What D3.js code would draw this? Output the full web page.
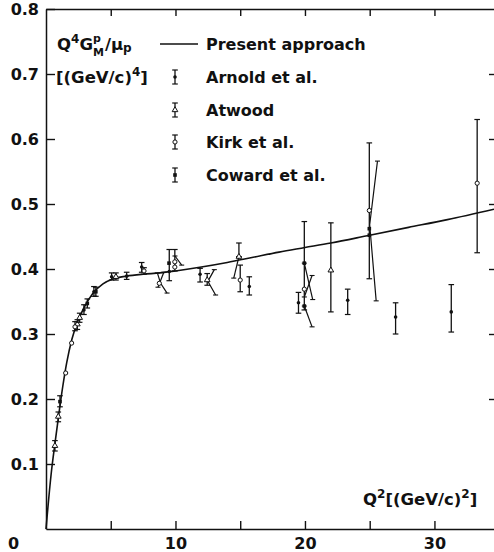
<!DOCTYPE html>
<html><head><meta charset="utf-8">
<script src="https://cdn.jsdelivr.net/npm/d3@7/dist/d3.min.js"></script>
<style>
body{margin:0;background:#fff}
svg{display:block}
text{font-family:"DejaVu Sans",sans-serif;font-weight:bold;fill:#111}
</style>
</head><body>
<svg id="c" width="494" height="552"></svg>
<script>
// ---------- data ----------
const xTicks = [5, 10, 15, 20, 25, 30];
const xLabels = [0, 10, 20, 30];
const yTicks = [0.1, 0.2, 0.3, 0.4, 0.5, 0.6, 0.7, 0.8];
const yRightTicks = [0.2, 0.3, 0.4, 0.5, 0.6, 0.7];

// "Present approach" curve
const curveQ2  = [0, 0.4, 0.7, 1.0, 1.3, 1.6, 2.0, 2.5, 3.0, 3.6, 4.4, 5.2, 6.2, 7.5, 8.8, 10, 12, 14, 16, 18, 20, 22, 25, 28, 31, 34.6];
const curveVal = [0, 0.085, 0.133, 0.178, 0.22, 0.256, 0.292, 0.322, 0.343, 0.362, 0.377, 0.385, 0.389, 0.392, 0.394, 0.397, 0.403, 0.41, 0.418, 0.426, 0.433, 0.44, 0.452, 0.464, 0.476, 0.492];

// data sets: [Q2, value, low, high]
const arnold = [
  [2.93, 0.337, 0.330, 0.345], [3.7, 0.365, 0.358, 0.373], [5.07, 0.388, 0.383, 0.394],
  [6.23, 0.389, 0.384, 0.395], [7.39, 0.403, 0.395, 0.410], [9.52, 0.396, 0.382, 0.430],
  [11.9, 0.392, 0.380, 0.401], [15.7, 0.373, 0.360, 0.388], [19.5, 0.348, 0.332, 0.364],
  [23.3, 0.352, 0.330, 0.369], [27.0, 0.326, 0.300, 0.348], [31.3, 0.334, 0.303, 0.376]
];
const atwood = [
  [0.69, 0.128, 0.120, 0.136], [0.95, 0.173, 0.165, 0.180], [2.42, 0.315, 0.307, 0.322],
  [2.6, 0.325, 0.318, 0.332], [5.4, 0.388, 0.383, 0.394], [12.45, 0.383, 0.375, 0.393],
  [14.9, 0.419, 0.419, 0.440], [22.0, 0.398, 0.334, 0.471]
];
const kirk = [
  [1.52, 0.240, 0.240, 0.240], [1.98, 0.286, 0.286, 0.286], [2.24, 0.311, 0.305, 0.319],
  [7.57, 0.397, 0.392, 0.402], [8.75, 0.378, 0.378, 0.378], [9.95, 0.403, 0.397, 0.430],
  [9.95, 0.411, 0.411, 0.411], [15.0, 0.383, 0.365, 0.406], [19.95, 0.369, 0.337, 0.473],
  [24.97, 0.490, 0.385, 0.594], [33.3, 0.532, 0.425, 0.630]
];
const coward = [
  [1.08, 0.196, 0.188, 0.205], [3.19, 0.347, 0.340, 0.354], [3.85, 0.365, 0.358, 0.372],
  [9.5, 0.409, 0.409, 0.409], [19.95, 0.409, 0.409, 0.409], [19.95, 0.343, 0.343, 0.343],
  [24.97, 0.452, 0.452, 0.452], [24.97, 0.462, 0.462, 0.462]
];
// slanted connecting strokes seen in the figure: lists of [Q2, value]
const links = [
  [[8.6, 0.394], [8.85, 0.378], [9.35, 0.363]],
  [[9.1, 0.395], [8.65, 0.372]],
  [[9.96, 0.42], [10.48, 0.406]],
  [[13.0, 0.399], [12.5, 0.381], [13.1, 0.36]],
  [[14.9, 0.419], [14.5, 0.386]],
  [[19.95, 0.409], [20.6, 0.353]],
  [[20.55, 0.39], [19.95, 0.357]],
  [[19.95, 0.343], [20.55, 0.311]],
  [[25.6, 0.566], [25.0, 0.468], [25.5, 0.351]]
];
const legendNames = ["Arnold et al.", "Atwood", "Kirk et al.", "Coward et al."];

// ---------- chart ----------
const svg = d3.select("#c");
const x = d3.scaleLinear().domain([0, 34.6]).range([46, 494]);
const y = d3.scaleLinear().domain([0, 0.8]).range([529, 9]);
const ink = "#111";

function styleAxis(g) {
  g.selectAll("path.domain").attr("stroke", ink).attr("stroke-width", 1.5);
  g.selectAll(".tick line").attr("stroke", ink).attr("stroke-width", 1.4);
  g.selectAll("text").attr("font-family", "DejaVu Sans").attr("font-weight", "bold")
    .attr("font-size", 16).attr("fill", ink);
}

// bottom axis (ticks inward) + labels
svg.append("g").attr("transform", `translate(0,${y(0)})`)
  .call(d3.axisBottom(x).tickValues(xTicks).tickSizeInner(-8).tickSizeOuter(0).tickFormat(""))
  .call(styleAxis);
const xl = svg.append("g").attr("transform", `translate(0,${y(0)})`)
  .call(d3.axisBottom(x).tickValues(xLabels).tickSize(0).tickPadding(9).tickFormat(d3.format("d")))
  .call(styleAxis);
xl.select("path.domain").remove();
xl.selectAll(".tick").filter(d => d === 0).select("text").attr("dx", -33);

// top axis
svg.append("g").attr("transform", `translate(0,${y(0.8)})`)
  .call(d3.axisTop(x).tickValues(xTicks).tickSizeInner(-7).tickSizeOuter(0).tickFormat(""))
  .call(styleAxis);

// left axis
svg.append("g").attr("transform", `translate(${x(0)},0)`)
  .call(d3.axisLeft(y).tickValues(yTicks).tickSizeInner(-9).tickSizeOuter(0).tickPadding(7).tickFormat(d3.format(".1f")))
  .call(styleAxis);

// right ticks
const rg = svg.append("g").attr("transform", `translate(${x(34.6)},0)`)
  .call(d3.axisRight(y).tickValues(yRightTicks).tickSizeInner(-5).tickSizeOuter(0).tickFormat(""))
  .call(styleAxis);
rg.select("path.domain").remove();

// curve
const line = d3.line().x(d => x(d[0])).y(d => y(d[1])).curve(d3.curveMonotoneX);
svg.append("path").datum(curveQ2.map((q, i) => [q, curveVal[i]]))
  .attr("d", line).attr("fill", "none").attr("stroke", ink).attr("stroke-width", 1.6);

// links
const plain = d3.line().x(d => x(d[0])).y(d => y(d[1]));
const lg = svg.append("g");
links.forEach(pts => {
  lg.append("path").attr("d", plain(pts)).attr("fill", "none").attr("stroke", ink).attr("stroke-width", 1.2);
  [pts[0], pts[pts.length - 1]].forEach(p => {
    lg.append("line").attr("x1", x(p[0]) - 2.5).attr("x2", x(p[0]) + 2.5)
      .attr("y1", y(p[1])).attr("y2", y(p[1])).attr("stroke", ink).attr("stroke-width", 1.1);
  });
});

// markers
function marker(g, kind, cx, cy) {
  if (kind === 0) g.append("circle").attr("cx", cx).attr("cy", cy).attr("r", 1.8).attr("fill", ink);
  else if (kind === 1) g.append("path").attr("d", d3.symbol(d3.symbolTriangle, 14)()).attr("transform", `translate(${cx},${cy})`)
      .attr("fill", "#fff").attr("stroke", ink).attr("stroke-width", 1);
  else if (kind === 2) g.append("circle").attr("cx", cx).attr("cy", cy).attr("r", 2.1).attr("fill", "#fff").attr("stroke", ink).attr("stroke-width", 1);
  else g.append("rect").attr("x", cx - 1.8).attr("y", cy - 1.8).attr("width", 3.6).attr("height", 3.6).attr("fill", ink);
}
function errbar(g, kind, cx, y1, y2, cy) {
  if (Math.abs(y1 - y2) > 0.5) {
    g.append("line").attr("x1", cx).attr("x2", cx).attr("y1", y1).attr("y2", y2).attr("stroke", ink).attr("stroke-width", 1.3);
    [y1, y2].forEach(yy => g.append("line").attr("x1", cx - 2.8).attr("x2", cx + 2.8).attr("y1", yy).attr("y2", yy)
      .attr("stroke", ink).attr("stroke-width", 1.2));
  }
  marker(g, kind, cx, cy);
}
const dg = svg.append("g");
[arnold, atwood, kirk, coward].forEach((set, k) => {
  set.forEach(d => errbar(dg, k, x(d[0]), y(d[2]), y(d[3]), y(d[1])));
});

// legend
const leg = svg.append("g");
const lx = 175, tx = 206, rows = [44, 77, 110, 142, 175];
leg.append("line").attr("x1", lx - 15).attr("x2", lx + 23).attr("y1", rows[0]).attr("y2", rows[0])
  .attr("stroke", ink).attr("stroke-width", 1.6);
leg.append("text").attr("x", tx).attr("y", rows[0]).attr("dy", "0.36em").attr("font-size", 16).text("Present approach");
legendNames.forEach((n, i) => {
  const cy = rows[i + 1];
  errbar(leg, i, lx, cy - 7, cy + 7, cy);
  leg.append("text").attr("x", tx).attr("y", cy).attr("dy", "0.36em").attr("font-size", 16).text(n);
});

// quantity label Q^4 G_M^p / mu_p
function seq(parts, x0, base) {
  let cx = x0;
  parts.forEach(p => {
    const t = svg.append("text").attr("x", cx + (p.dx || 0)).attr("y", base + (p.dy || 0))
      .attr("font-size", p.fs).text(p.s);
    const w = t.node().getComputedTextLength();
    if (!p.stack) cx += w + (p.dx || 0);
  });
  return cx;
}
seq([
  {s: "Q", fs: 16.5}, {s: "4", fs: 12, dy: -7},
  {s: "G", fs: 16.5}, {s: "p", fs: 11, dy: -8, stack: true}, {s: "M", fs: 11, dy: 6},
  {s: "/", fs: 16.5, dx: 1}, {s: "μ", fs: 16.5}, {s: "p", fs: 12, dy: 2}
], 57, 50);
seq([
  {s: "[(GeV/c)", fs: 16.5}, {s: "4", fs: 12, dy: -7}, {s: "]", fs: 16.5}
], 56, 83);
// x axis title
seq([
  {s: "Q", fs: 16.5}, {s: "2", fs: 12, dy: -7}, {s: " [(GeV/c)", fs: 16.5}, {s: "2", fs: 12, dy: -7}, {s: "]", fs: 16.5}
], 363, 505);
</script>
</body></html>
